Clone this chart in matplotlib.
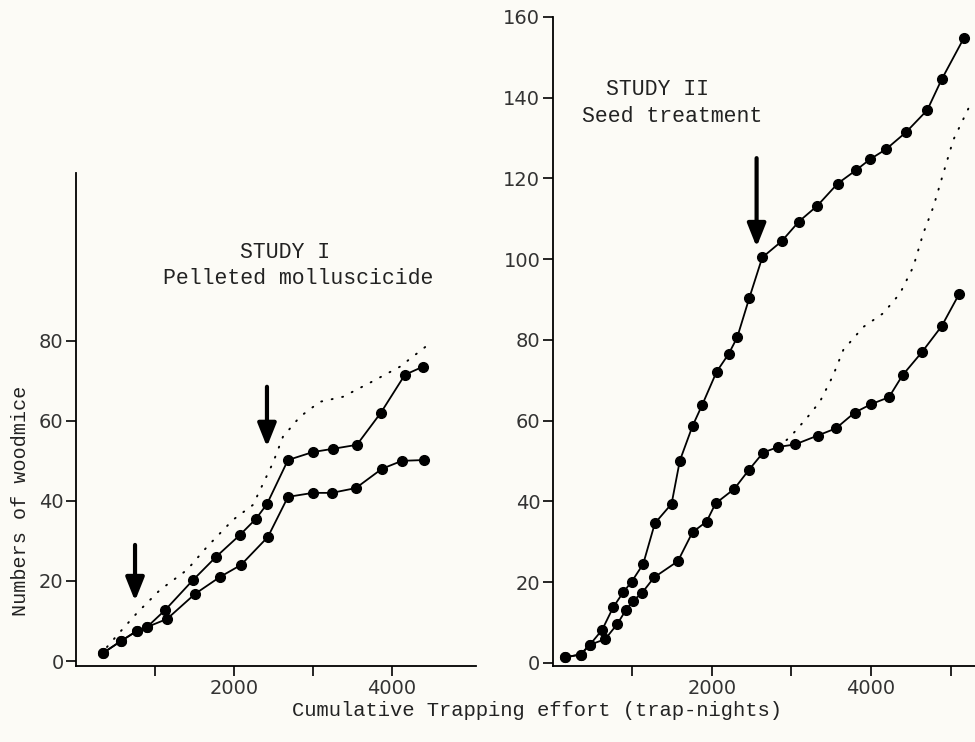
import numpy as np
import matplotlib
matplotlib.use('Agg')
import matplotlib.pyplot as plt

# ---- Study I : pelleted molluscicide ----
s1_x_up = [342, 570, 770, 900, 1127, 1480, 1772, 2076, 2278, 2418, 2684, 3000, 3253, 3557, 3860, 4165, 4392]
s1_y_up = [2, 5, 7.5, 8.5, 12.7, 20.2, 26, 31.5, 35.5, 39.2, 50.2, 52.2, 53, 54, 62, 71.5, 73.5]

s1_x_lo = [342, 570, 770, 900, 1152, 1506, 1823, 2089, 2430, 2684, 3000, 3240, 3544, 3873, 4127, 4405]
s1_y_lo = [2, 5, 7.5, 8.5, 10.5, 16.75, 21, 24, 31, 41, 42, 42, 43.2, 48, 50, 50.2]

s1_x_dot = [392, 557, 772, 1063, 1405, 1658, 1987, 2241, 2494, 2620, 2835, 3089, 3380, 3722, 4101, 4443]
s1_y_dot = [3.5, 7.25, 12, 17.75, 22.75, 28.5, 35.25, 39, 49.5, 56, 61, 64.75, 66, 69.5, 73.5, 78.75]

s1_arrows = [(747, 29, 15), (2418, 68.5, 53.5)]   # x, y start, y tip

# ---- Study II : seed treatment ----
s2_x_up = [151, 348, 465, 620, 759, 885, 990, 1136, 1283, 1493, 1597, 1757, 1878, 2059, 2210, 2318,
           2469, 2633, 2876, 3094, 3325, 3581, 3811, 3987, 4189, 4440, 4708, 4889, 5170]
s2_y_up = [1.4, 2.1, 4.5, 8.2, 13.8, 17.5, 20.1, 24.5, 34.6, 39.4, 50.1, 58.7, 63.9, 72.1, 76.5, 80.6,
           90.3, 100.4, 104.4, 109.3, 113.2, 118.7, 122, 124.7, 127.2, 131.4, 136.9, 144.5, 154.8]

s2_x_lo = [151, 348, 465, 658, 809, 918, 1010, 1123, 1274, 1572, 1757, 1933, 2046, 2281, 2469, 2645,
           2834, 3044, 3329, 3560, 3795, 4004, 4226, 4399, 4638, 4889, 5107]
s2_y_lo = [1.4, 2.1, 4.5, 5.9, 9.6, 13.1, 15.4, 17.4, 21.2, 25.2, 32.4, 35, 39.5, 43.1, 47.9, 52.1,
           53.5, 54.1, 56.3, 58.1, 62, 64.1, 65.8, 71.3, 76.9, 83.4, 91.3]

s2_x_dot = [2834, 2981, 3191, 3358, 3484, 3526, 3652, 3904, 4155, 4365, 4532, 4658, 4784, 4909, 5035, 5245]
s2_y_dot = [53.5, 55.9, 60.6, 64.7, 69.6, 71.3, 77.5, 83.2, 86.6, 91.5, 98.1, 106.4, 112.9, 121.2, 129.5, 138.1]

s2_arrows = [(2562, 125, 103)]

bg = '#fcfbf6'
mono = 'Liberation Mono'
tick_font = 'DejaVu Sans'
txt_col = '#222222'

fig = plt.figure(figsize=(9.75, 7.42), dpi=100, facecolor=bg)
ax1 = fig.add_axes([0.078, 0.1024, 0.41, 0.665])
ax2 = fig.add_axes([0.567, 0.1024, 0.433, 0.875])


def style(ax, xmax, ymin, ymax, yticks, xticks):
    ax.set_facecolor(bg)
    for s in ['top', 'right']:
        ax.spines[s].set_visible(False)
    for s in ['left', 'bottom']:
        ax.spines[s].set_linewidth(1.3)
    ax.set_xlim(0, xmax)
    ax.set_ylim(ymin, ymax)
    ax.set_yticks(yticks)
    ax.set_xticks(xticks)
    ax.set_xticklabels(['2000' if t == 2000 else '4000' if t == 4000 else '' for t in xticks])
    ax.tick_params(axis='both', direction='out', length=7, width=1.2, labelsize=14,
                   labelcolor='#333333', pad=2)
    for lab in ax.get_xticklabels() + ax.get_yticklabels():
        lab.set_family(tick_font)


def draw(ax, xu, yu, xl, yl, xd, yd, arrows):
    ax.plot(xd, yd, color='k', lw=1.4, linestyle=(0, (0.5, 5)), dash_capstyle='round')
    ax.plot(xu, yu, 'k-', marker='o', ms=7, lw=1.3)
    ax.plot(xl, yl, 'k-', marker='o', ms=7, lw=1.3)
    for x, y0, y1 in arrows:
        ax.annotate('', xy=(x, y1), xytext=(x, y0),
                    arrowprops=dict(arrowstyle='-|>,head_width=0.4,head_length=1.0',
                                    lw=3, color='k', mutation_scale=14, shrinkA=0, shrinkB=0))


style(ax1, 5063, -1.25, 122, [0, 20, 40, 60, 80], [1000, 2000, 3000, 4000])
style(ax2, 5308, -0.75, 160, [0, 20, 40, 60, 80, 100, 120, 140, 160], [1000, 2000, 3000, 4000, 5000])

draw(ax1, s1_x_up, s1_y_up, s1_x_lo, s1_y_lo, s1_x_dot, s1_y_dot, s1_arrows)
draw(ax2, s2_x_up, s2_y_up, s2_x_lo, s2_y_lo, s2_x_dot, s2_y_dot, s2_arrows)

kw = dict(ha='center', va='center', family=mono, fontsize=15.5, color=txt_col)
ax1.text(0.5225, 0.838, 'STUDY I', transform=ax1.transAxes, **kw)
ax1.text(0.555, 0.785, 'Pelleted molluscicide', transform=ax1.transAxes, **kw)
ax2.text(0.249, 0.8875, 'STUDY II', transform=ax2.transAxes, **kw)
ax2.text(0.282, 0.846, 'Seed treatment', transform=ax2.transAxes, **kw)

fig.text(0.021, 0.325, 'Numbers of woodmice', rotation=90, ha='center', va='center',
         family=mono, fontsize=14.5, color=txt_col)
fig.text(0.551, 0.043, 'Cumulative Trapping effort (trap-nights)', ha='center', va='center',
         family=mono, fontsize=14.8, color=txt_col)

fig.savefig('out.png', dpi=100, facecolor=bg)
